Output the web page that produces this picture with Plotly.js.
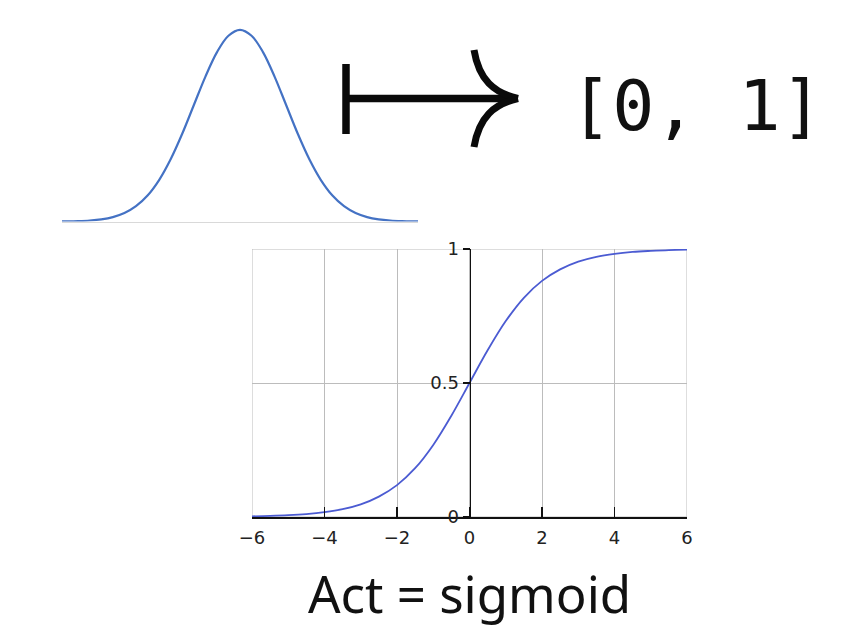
<!DOCTYPE html>
<html>
<head>
<meta charset="utf-8">
<script src="https://cdn.plot.ly/plotly-3.0.1.min.js"></script>
<style>html,body{margin:0;padding:0;background:#fff;}#chart{width:850px;height:636px;}</style>
</head>
<body>
<div id="chart"></div>
<script>
// Sigmoid curve values
const sigX = [-6,-5.5,-5,-4.5,-4,-3.5,-3,-2.5,-2,-1.5,-1,-0.5,0,0.5,1,1.5,2,2.5,3,3.5,4,4.5,5,5.5,6];
const sigY = [0.0025,0.0041,0.0067,0.011,0.018,0.029,0.047,0.076,0.119,0.182,0.269,0.378,0.5,0.622,0.731,0.818,0.881,0.924,0.953,0.971,0.982,0.989,0.993,0.996,0.9975];
// Bell curve values (relative height)
const bellX = [-4,-3.75,-3.5,-3.25,-3,-2.75,-2.5,-2.25,-2,-1.75,-1.5,-1.25,-1,-0.75,-0.5,-0.25,0,0.25,0.5,0.75,1,1.25,1.5,1.75,2,2.25,2.5,2.75,3,3.25,3.5,3.75,4];
const bellY = [0.0003,0.0009,0.0022,0.0051,0.0111,0.0228,0.0439,0.0796,0.1353,0.2163,0.3247,0.4578,0.6065,0.7548,0.8825,0.9692,1,0.9692,0.8825,0.7548,0.6065,0.4578,0.3247,0.2163,0.1353,0.0796,0.0439,0.0228,0.0111,0.0051,0.0022,0.0009,0.0003];
// Tick labels
const xTicks = [-6,-4,-2,0,2,4,6];
const yTicks = [0,0.5,1];
const yTickText = ['0','0.5','1'];
const rangeText = '[0, 1]';
const captionText = 'Act = sigmoid';

const W = 850, H = 636;
const px = x => x / W;
const py = y => 1 - y / H;

const traces = [
  {x: sigX, y: sigY, type: 'scatter', mode: 'lines', line: {color: '#4b5bd2', width: 1.8, shape: 'spline'}, xaxis: 'x', yaxis: 'y', hoverinfo: 'none'},
  {x: bellX, y: bellY, type: 'scatter', mode: 'lines', line: {color: '#4472c4', width: 2.2, shape: 'spline'}, xaxis: 'x2', yaxis: 'y2', hoverinfo: 'none'}
];

function P(x, y) { return px(x).toFixed(5) + ',' + py(y).toFixed(5); }

const arrowColor = '#0a0a0a';
const gridColor = '#bcbcbc';
const shapes = [
  // outer grid frame of the sigmoid chart (edge grid lines)
  {type: 'rect', xref: 'x', yref: 'y', x0: -6, x1: 6, y0: 0, y1: 1, line: {color: gridColor, width: 1}, layer: 'below'},
  {type: 'line', xref: 'paper', yref: 'paper', x0: px(346), x1: px(346), y0: py(64), y1: py(134), line: {color: arrowColor, width: 7.5}},
  {type: 'line', xref: 'paper', yref: 'paper', x0: px(346), x1: px(514), y0: py(98.5), y1: py(98.5), line: {color: arrowColor, width: 7.5}},
  {type: 'path', xref: 'paper', yref: 'paper', path: 'M' + P(474, 50) + ' C' + P(479, 80) + ' ' + P(494, 93) + ' ' + P(518, 98.5), line: {color: arrowColor, width: 7}},
  {type: 'path', xref: 'paper', yref: 'paper', path: 'M' + P(474, 147) + ' C' + P(479, 117) + ' ' + P(494, 104) + ' ' + P(518, 98.5), line: {color: arrowColor, width: 7}}
];

const annotations = [
  {xref: 'paper', yref: 'paper', x: px(568), y: py(106), xanchor: 'left', yanchor: 'middle', text: rangeText, showarrow: false,
   font: {family: 'DejaVu Sans Mono', size: 70, color: '#111'}},
  {xref: 'paper', yref: 'paper', x: px(469), y: py(593), xanchor: 'center', yanchor: 'middle', text: captionText, showarrow: false,
   font: {family: 'Noto Sans', size: 51, color: '#111'}}
];

const layout = {
  width: W, height: H,
  margin: {l: 0, r: 0, t: 0, b: 0, pad: 0},
  paper_bgcolor: '#fff', plot_bgcolor: 'rgba(0,0,0,0)',
  showlegend: false,
  xaxis: {
    domain: [px(252), px(687)], range: [-6, 6], anchor: 'y',
    tickmode: 'array', tickvals: xTicks,
    ticks: 'inside', ticklen: 10, tickwidth: 1.8, tickcolor: '#111',
    showline: true, linecolor: '#111', linewidth: 1.6,
    showgrid: true, gridcolor: gridColor, gridwidth: 1, zeroline: false,
    ticklabelstandoff: 4,
    tickfont: {family: 'DejaVu Sans', size: 18, color: '#222'}, fixedrange: true
  },
  yaxis: {
    domain: [1 - 517 / H, 1 - 249 / H], range: [0, 1], anchor: 'free', position: px(469.5),
    tickmode: 'array', tickvals: yTicks, ticktext: yTickText,
    ticks: 'outside', ticklen: 7, tickwidth: 1.5, tickcolor: '#111',
    showline: true, linecolor: '#111', linewidth: 1.6,
    showgrid: true, gridcolor: gridColor, gridwidth: 1, zeroline: false,
    tickfont: {family: 'DejaVu Sans', size: 18, color: '#222'}, fixedrange: true
  },
  xaxis2: {
    domain: [px(62), px(418)], range: [-3.85, 3.85], anchor: 'y2',
    showline: true, linecolor: '#d9d9d9', linewidth: 1,
    showgrid: false, zeroline: false, showticklabels: false, ticks: '', fixedrange: true
  },
  yaxis2: {
    domain: [1 - 221.5 / H, 1 - 26 / H], range: [0, 1.02], anchor: 'x2',
    visible: false, fixedrange: true
  },
  shapes: shapes,
  annotations: annotations
};

Plotly.newPlot('chart', traces, layout, {staticPlot: true, displayModeBar: false});
</script>
</body>
</html>
